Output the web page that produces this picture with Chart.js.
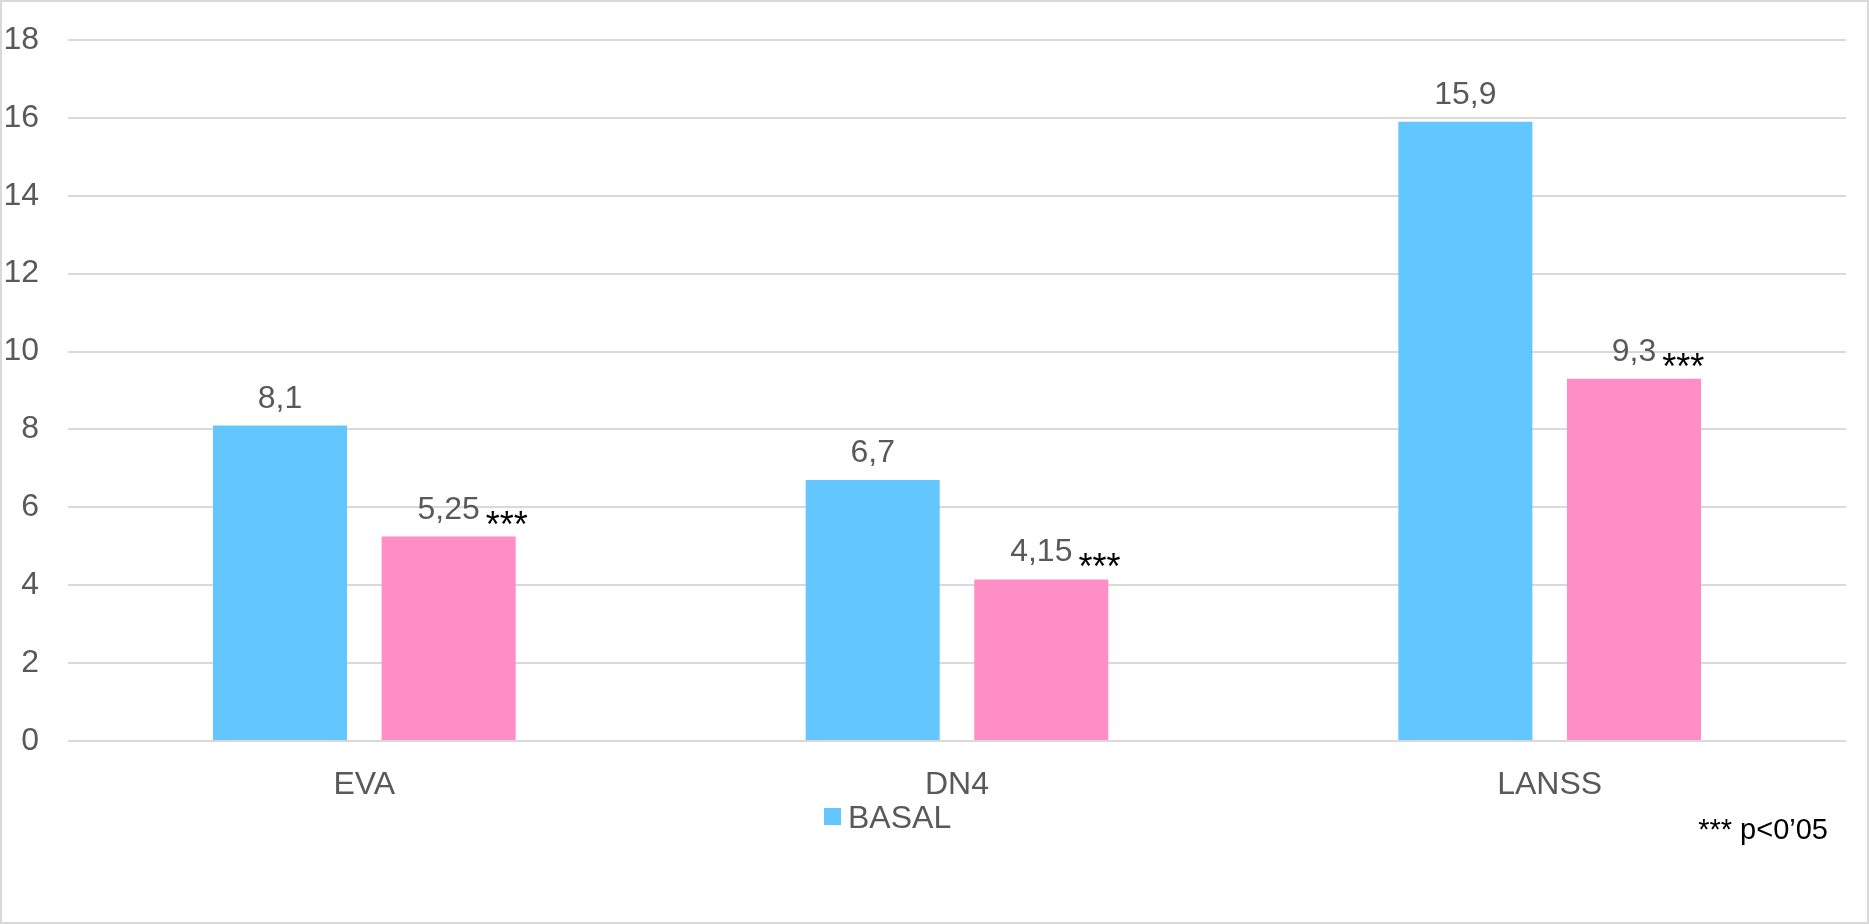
<!DOCTYPE html>
<html>
<head>
<meta charset="utf-8">
<script src="https://cdn.jsdelivr.net/npm/chart.js@4/dist/chart.umd.min.js"></script>
<style>
  html, body { margin: 0; padding: 0; background: #fff; }
  #wrap { position: relative; width: 1869px; height: 924px; box-sizing: border-box; border: 2px solid #d9d9d9; }
  #chart { position: absolute; left: -2px; top: -2px; }
</style>
</head>
<body>
<div id="wrap"><canvas id="chart" width="1869" height="924"></canvas></div>
<script>
const categories = ['EVA', 'DN4', 'LANSS'];
const basalValues = [8.1, 6.7, 15.9];
const secondValues = [5.25, 4.15, 9.3];
const secondStars = ['***', '***', '***'];
const yTicks = [0, 2, 4, 6, 8, 10, 12, 14, 16, 18];
const footnote = '*** p<0\u201905';

const FONT = '"Liberation Sans", Arial, sans-serif';
const GREY = '#595959';

document.addEventListener('DOMContentLoaded', function() {
    // value labels above bars, plus stars on the second series
    const valueLabels = {
        id: 'valueLabels',
        afterDatasetsDraw(chart) {
            const ctx = chart.ctx;
            ctx.save();
            chart.data.datasets.forEach((ds, di) => {
                const meta = chart.getDatasetMeta(di);
                meta.data.forEach((bar, i) => {
                    const txt = String(ds.data[i]).replace('.', ',');
                    ctx.font = '32px ' + FONT;
                    ctx.fillStyle = GREY;
                    ctx.textAlign = 'center';
                    ctx.textBaseline = 'alphabetic';
                    ctx.fillText(txt, bar.x, bar.y - 18);
                    if (di === 1 && secondStars[i]) {
                        const w = ctx.measureText(txt).width;
                        ctx.font = '36px ' + FONT;
                        ctx.fillStyle = '#000';
                        ctx.textAlign = 'left';
                        ctx.fillText(secondStars[i], bar.x + w / 2 + 6, bar.y);
                    }
                });
            });
            ctx.restore();
        }
    };

    // legend (only BASAL is shown) and footnote
    const extras = {
        id: 'extras',
        afterDraw(chart) {
            const ctx = chart.ctx;
            const ds = chart.data.datasets[0];
            ctx.save();
            ctx.fillStyle = ds.backgroundColor;
            ctx.fillRect(824, 808, 17, 17);
            ctx.font = '32px ' + FONT;
            ctx.fillStyle = GREY;
            ctx.textAlign = 'left';
            ctx.textBaseline = 'alphabetic';
            ctx.fillText(ds.label, 848, 828);
            ctx.font = '29px ' + FONT;
            ctx.fillStyle = '#000';
            ctx.textAlign = 'right';
            ctx.fillText(footnote, 1828, 839);
            ctx.restore();
        }
    };

    const ctx = document.getElementById('chart').getContext('2d');
    new Chart(ctx, {
        type: 'bar',
        data: {
            labels: categories,
            datasets: [
                { label: 'BASAL', data: basalValues, backgroundColor: '#64C6FE' },
                { label: '', data: secondValues, backgroundColor: '#FF8DC6' }
            ]
        },
        options: {
            responsive: false,
            animation: false,
            categoryPercentage: 0.569,
            barPercentage: 0.795,
            layout: { padding: { left: 2, right: 23, top: 40, bottom: 123 } },
            plugins: {
                legend: { display: false },
                tooltip: { enabled: false }
            },
            scales: {
                x: {
                    grid: { display: false },
                    border: { display: false },
                    ticks: { color: GREY, font: { family: FONT, size: 32 }, padding: 17 },
                    afterFit: function(scale) { scale.height = 60; }
                },
                y: {
                    min: 0,
                    max: 18,
                    afterBuildTicks: function(scale) { scale.ticks = yTicks.map(v => ({ value: v })); },
                    grid: { color: '#d9d9d9', lineWidth: 2, drawTicks: false },
                    border: { display: false },
                    ticks: { color: GREY, font: { family: FONT, size: 32 }, padding: 29 },
                    afterFit: function(scale) {
                        scale.width = 66;
                        scale.paddingTop = 0;
                        scale.paddingBottom = 0;
                    }
                }
            }
        },
        plugins: [valueLabels, extras]
    });
});
</script>
</body>
</html>
